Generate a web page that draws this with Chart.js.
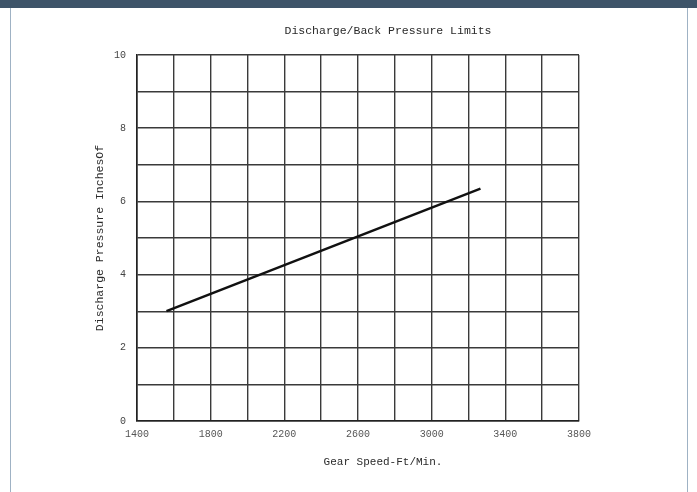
<!DOCTYPE html>
<html>
<head>
<meta charset="utf-8">
<script src="https://cdn.jsdelivr.net/npm/chart.js@4"></script>
<style>
  html, body { margin: 0; padding: 0; background: #fff; }
  #band { position: absolute; left: 0; top: 0; width: 697px; height: 8px; background: #3e5469; }
  #frame { position: absolute; left: 10px; top: 8px; width: 676px; height: 484px;
           border-left: 1px solid #9fb2c4; border-right: 1px solid #9fb2c4; }
  #wrap { position: absolute; left: 0; top: 0; width: 697px; height: 492px; }
</style>
</head>
<body>
<div id="band"></div>
<div id="frame"></div>
<div id="wrap"><canvas id="c" width="697" height="492"></canvas></div>
<script>
// values
const speedFpm = [1560, 3265];
const pressureIn = [3.0, 6.35];
const xTickLabels = [1400, 1800, 2200, 2600, 3000, 3400, 3800];
const yTickLabels = [0, 2, 4, 6, 8, 10];

const chartTitle = 'Discharge/Back Pressure Limits';
const xTitle = 'Gear Speed-Ft/Min.';
const yTitle = 'Discharge Pressure InchesOf';

const FONT = '"Liberation Mono", "DejaVu Sans Mono", monospace';

// titles drawn by hand so they sit where the scan has them
const textPlugin = {
  id: 'scanText',
  afterDraw(chart) {
    const ctx = chart.ctx;
    ctx.save();
    ctx.fillStyle = '#2a2a2a';
    ctx.textAlign = 'center';
    ctx.textBaseline = 'middle';
    ctx.font = '11.5px ' + FONT;
    ctx.fillText(chartTitle, 388, 31);
    ctx.font = '11px ' + FONT;
    ctx.fillText(xTitle, 383, 462);
    ctx.translate(100, 238);
    ctx.rotate(-Math.PI / 2);
    ctx.font = '11.5px ' + FONT;
    ctx.fillText(yTitle, 0, 0);
    ctx.restore();
  }
};

const ctx = document.getElementById('c').getContext('2d');
new Chart(ctx, {
  type: 'scatter',
  data: {
    datasets: [{
      data: speedFpm.map((x, i) => ({ x: x, y: pressureIn[i] })),
      showLine: true,
      borderColor: '#111',
      borderWidth: 2.5,
      pointRadius: 0,
      fill: false
    }]
  },
  options: {
    responsive: false,
    animation: false,
    layout: { padding: { top: 55, right: 118, left: 0, bottom: 0 } },
    plugins: {
      legend: { display: false },
      tooltip: { enabled: false },
      title: { display: false }
    },
    scales: {
      x: {
        type: 'linear',
        min: 1400,
        max: 3800,
        afterFit: s => { s.height = 71; },
        grid: { color: '#3a3a3a', lineWidth: 1.4, drawTicks: false },
        border: { color: '#222', width: 1.6 },
        ticks: {
          stepSize: 200,
          padding: 7,
          autoSkip: false,
          maxRotation: 0,
          color: '#555',
          font: { family: FONT, size: 10 },
          callback: v => xTickLabels.includes(v) ? String(v) : ''
        }
      },
      y: {
        min: 0,
        max: 10,
        afterFit: s => { s.width = 137; },
        grid: { color: '#3a3a3a', lineWidth: 1.4, drawTicks: false },
        border: { color: '#222', width: 1.6 },
        ticks: {
          stepSize: 1,
          padding: 11,
          autoSkip: false,
          color: '#444',
          font: { family: FONT, size: 10 },
          callback: v => yTickLabels.includes(v) ? String(v) : ''
        }
      }
    }
  },
  plugins: [textPlugin]
});
</script>
</body>
</html>
